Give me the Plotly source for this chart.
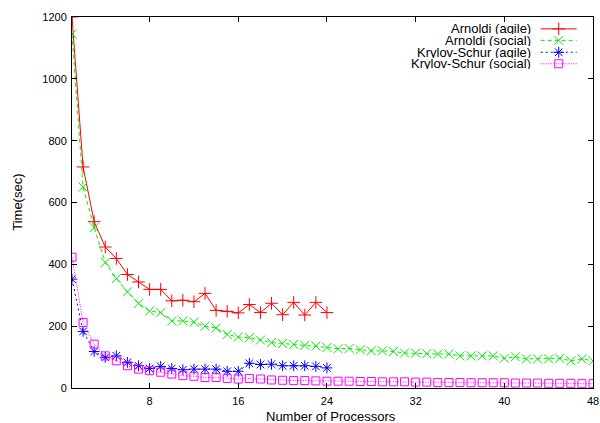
import plotly.graph_objects as go

procs_agile = list(range(1, 25))
procs_social = list(range(1, 49))

arnoldi_agile = [1200, 715, 538, 456, 419, 367, 343, 319, 319, 282, 284, 279,
                 306, 251, 248, 243, 270, 244, 274, 237, 277, 236, 277, 244]
arnoldi_social = [1145, 650, 519, 406, 354, 311, 274, 249, 244, 217, 217, 213,
                  200, 194, 173, 165, 163, 155, 147, 144, 141, 138, 136, 131,
                  127, 128, 124, 120, 120, 118, 113, 113, 111, 110, 110, 104,
                  104, 104, 104, 96, 101, 94, 94, 94, 96, 88, 94, 88]
krylov_agile = [352, 183, 118, 99, 104, 83, 72, 63, 70, 63, 59, 61,
                61, 61, 54, 54, 80, 76, 77, 72, 72, 72, 70, 65]
krylov_social = [423, 212, 142, 104, 88, 72, 61, 56, 51, 45, 40, 38,
                 34, 34, 31, 29, 31, 29, 26, 25, 24, 24, 23, 22,
                 22, 22, 21, 21, 20, 20, 20, 19, 19, 18, 18, 18,
                 17, 17, 17, 17, 16, 16, 16, 15, 15, 15, 14, 14]

x_ticks = [8, 16, 24, 32, 40, 48]
y_ticks = [0, 200, 400, 600, 800, 1000, 1200]

names = ["Arnoldi (agile)", "Arnoldi (social)", "Krylov-Schur (agile)", "Krylov-Schur (social)"]
colors = ["#ff0000", "#00ee00", "#0000ff", "#ff00ff"]
dashes = ["solid", "4px,3px", "2px,3px", "1px,1.5px"]
symbols = ["cross-thin-open", "x-thin-open", "asterisk-open", "square-open"]
sizes = [9, 9, 9, 8]
xs = [procs_agile, procs_social, procs_agile, procs_social]
ys = [arnoldi_agile, arnoldi_social, krylov_agile, krylov_social]

FONT = "Liberation Sans, Arial, sans-serif"
fig = go.Figure()
for i in range(4):
    fig.add_trace(go.Scatter(
        x=xs[i], y=ys[i], mode="lines+markers", name=names[i], showlegend=False,
        line=dict(color=colors[i], width=1, dash=dashes[i]),
        marker=dict(symbol=symbols[i], size=sizes[i], color=colors[i],
                    line=dict(color=colors[i], width=1)),
    ))

# custom gnuplot-style key (text left, sample right)
key_rows = [0.968, 0.937, 0.905, 0.874]
for i in range(4):
    fig.add_trace(go.Scatter(
        x=[0.8997, 0.9687], y=[key_rows[i], key_rows[i]], mode="lines",
        xaxis="x2", yaxis="y2", showlegend=False, hoverinfo="skip",
        line=dict(color=colors[i], width=1, dash=dashes[i]),
    ))
    fig.add_trace(go.Scatter(
        x=[0.9342], y=[key_rows[i]], mode="markers",
        xaxis="x2", yaxis="y2", showlegend=False, hoverinfo="skip",
        marker=dict(symbol=symbols[i], size=sizes[i], color=colors[i],
                    line=dict(color=colors[i], width=1)),
    ))
    fig.add_annotation(x=0.883, y=key_rows[i], xref="paper", yref="paper",
                       text=names[i], showarrow=False, xanchor="right", yanchor="middle",
                       height=11, borderpad=0,
                       font=dict(family=FONT, size=13, color="black"))

# axis titles
fig.add_annotation(x=0.498, y=-0.078, xref="paper", yref="paper",
                   text="Number of Processors", showarrow=False,
                   xanchor="center", yanchor="middle",
                   font=dict(family=FONT, size=13, color="black"))
fig.add_annotation(x=-0.105, y=0.5, xref="paper", yref="paper",
                   text="Time(sec)", showarrow=False, textangle=-90,
                   xanchor="center", yanchor="middle",
                   font=dict(family=FONT, size=13, color="black"))

axis_common = dict(showline=True, linecolor="black", linewidth=1, mirror="ticks",
                   ticks="inside", ticklen=5, tickcolor="black", tickwidth=1,
                   showgrid=False, zeroline=False, automargin=False,
                   tickfont=dict(family=FONT, size=11, color="black"))

fig.update_layout(
    width=600, height=423,
    margin=dict(l=71.5, r=7, t=16.7, b=34.5, autoexpand=False),
    paper_bgcolor="white", plot_bgcolor="white",
    font=dict(family=FONT, size=12, color="black"),
    xaxis=dict(range=[1, 48], tickvals=x_ticks, ticktext=[str(v) for v in x_ticks],
               ticklabelstandoff=3, **axis_common),
    yaxis=dict(range=[0, 1200], tickvals=y_ticks, ticktext=[str(v) for v in y_ticks],
               ticklabelstandoff=2, **axis_common),
    xaxis2=dict(range=[0, 1], overlaying="x", visible=False, fixedrange=True),
    yaxis2=dict(range=[0, 1], overlaying="y", visible=False, fixedrange=True),
)

fig.write_html(
    "out.html",
    config={"displayModeBar": False},
    post_script="document.body.style.margin='0';document.body.style.overflow='hidden';",
)
